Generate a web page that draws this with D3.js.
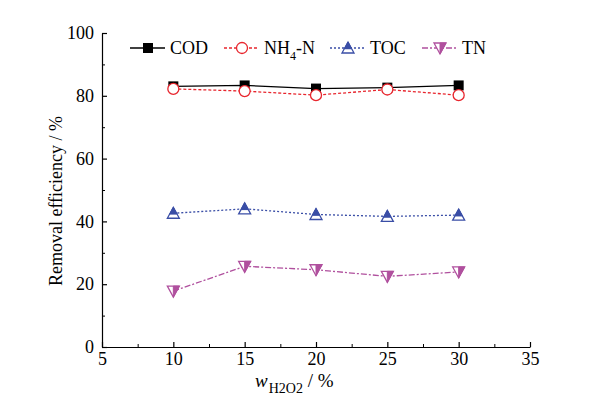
<!DOCTYPE html>
<html>
<head>
<meta charset="utf-8">
<script src="https://cdn.jsdelivr.net/npm/d3@7"></script>
<style>
  body { margin: 0; background: #fff; }
  text { font-family: "Liberation Serif", "Times New Roman", serif; fill: #000; }
</style>
</head>
<body>
<div class="chart"></div>
<script>
var svgWidth = 591;
var svgHeight = 399;

// data
var dosage = [10, 15, 20, 25, 30];
var cod = [83.0, 83.3, 82.3, 82.6, 83.3];
var nh4n = [82.2, 81.5, 80.2, 82.0, 80.2];
var toc = [42.6, 44.0, 42.2, 41.6, 42.0];
var tn = [17.8, 25.7, 24.6, 22.5, 23.9];
var xTicks = [5, 10, 15, 20, 25, 30, 35];
var yTicks = [0, 20, 40, 60, 80, 100];

var svg = d3.select(".chart")
  .append("svg")
  .attr("width", svgWidth)
  .attr("height", svgHeight);

var x = d3.scaleLinear().domain([5, 35]).range([102, 530]);
var y = d3.scaleLinear().domain([0, 100]).range([347, 33]);

// minor ticks first
svg.append("g")
  .attr("transform", "translate(0,347)")
  .call(d3.axisBottom(x).tickValues(d3.range(7.5, 35, 5)).tickSize(-3).tickFormat(""))
  .call(g => g.select(".domain").remove());
svg.append("g")
  .attr("transform", "translate(102,0)")
  .call(d3.axisLeft(y).tickValues(d3.range(10, 100, 20)).tickSize(-3).tickFormat(""))
  .call(g => g.select(".domain").remove());

var xAxis = svg.append("g")
  .attr("transform", "translate(0,347)")
  .call(d3.axisBottom(x).tickValues(xTicks).tickSizeInner(-5).tickSizeOuter(0).tickPadding(4));
var yAxis = svg.append("g")
  .attr("transform", "translate(102,0)")
  .call(d3.axisLeft(y).tickValues(yTicks).tickSizeInner(-5).tickSizeOuter(0).tickPadding(8));

[xAxis, yAxis].forEach(function(g) {
  g.attr("font-family", null);
  g.selectAll("text").style("font-size", "18px");
  g.selectAll("line, path").attr("stroke", "#000").attr("stroke-width", 1.2);
});
xAxis.selectAll("text").attr("dy", "0.75em");

// axis titles
svg.append("text")
  .attr("transform", "translate(62,201) rotate(-90)")
  .attr("text-anchor", "middle")
  .style("font-size", "18px")
  .text("Removal efficiency / %");

var xt = svg.append("text")
  .attr("x", 255)
  .attr("y", 387)
  .style("font-size", "19px");
xt.append("tspan").style("font-style", "italic").text("w");
xt.append("tspan").attr("dx", 1).attr("dy", 6).style("font-size", "14px").text("H2O2");
xt.append("tspan").attr("dy", -6).text(" / %");

// series definitions
var series = [
  { name: "COD", values: cod, color: "#000000", dash: null, marker: "square" },
  { name: "NH4-N", values: nh4n, color: "#e8262e", dash: "3,2", marker: "circle" },
  { name: "TOC", values: toc, color: "#3a4ea6", dash: "2,2", marker: "up" },
  { name: "TN", values: tn, color: "#b0509e", dash: "6,2,2,2", marker: "down" }
];

function drawMarker(g, type, color) {
  if (type === "square") {
    g.append("rect").attr("x", -5).attr("y", -5).attr("width", 10).attr("height", 10).attr("fill", color);
  } else if (type === "circle") {
    g.append("circle").attr("r", 5.5).attr("fill", "#fff").attr("stroke", color).attr("stroke-width", 1.3);
  } else if (type === "up") {
    g.append("path").attr("d", "M0,-6L6,5L-6,5Z").attr("fill", "#fff").attr("stroke", color).attr("stroke-width", 1.3);
    g.append("path").attr("d", "M0,-6L3.5,0.5L-3.5,0.5Z").attr("fill", color).attr("stroke", color);
    g.append("path").attr("d", "M-3.5,0.5L3.5,0.5").attr("stroke", color).attr("stroke-width", 1.5);
  } else {
    g.append("path").attr("d", "M-6,-5L6,-5L0,6Z").attr("fill", "#fff").attr("stroke", color).attr("stroke-width", 1.3);
    g.append("path").attr("d", "M0,-5L6,-5L0,6Z").attr("fill", color).attr("stroke", color);
  }
}

var line = d3.line().x((d, i) => x(dosage[i])).y(d => y(d));

series.forEach(function(s) {
  svg.append("path")
    .datum(s.values)
    .attr("d", line)
    .attr("fill", "none")
    .attr("stroke", s.color)
    .attr("stroke-width", 1.3)
    .attr("stroke-dasharray", s.dash);
  s.values.forEach(function(v, i) {
    var g = svg.append("g").attr("transform", `translate(${x(dosage[i])},${y(v)})`);
    drawMarker(g, s.marker, s.color);
  });
});

// legend
var legendX = [130, 224, 330, 422];
series.forEach(function(s, i) {
  var g = svg.append("g").attr("transform", `translate(${legendX[i]},48)`);
  g.append("line").attr("x1", 0).attr("x2", 35).attr("y1", 0).attr("y2", 0)
    .attr("stroke", s.color).attr("stroke-width", 1.3).attr("stroke-dasharray", s.dash);
  var m = g.append("g").attr("transform", "translate(18,0)");
  drawMarker(m, s.marker, s.color);
  var t = g.append("text").attr("x", 40).attr("y", 6).style("font-size", "18px");
  if (s.name === "NH4-N") {
    t.append("tspan").text("NH");
    t.append("tspan").attr("dy", 6).style("font-size", "12px").text("4");
    t.append("tspan").attr("dy", -6).text("-N");
  } else {
    t.text(s.name);
  }
});
</script>
</body>
</html>
